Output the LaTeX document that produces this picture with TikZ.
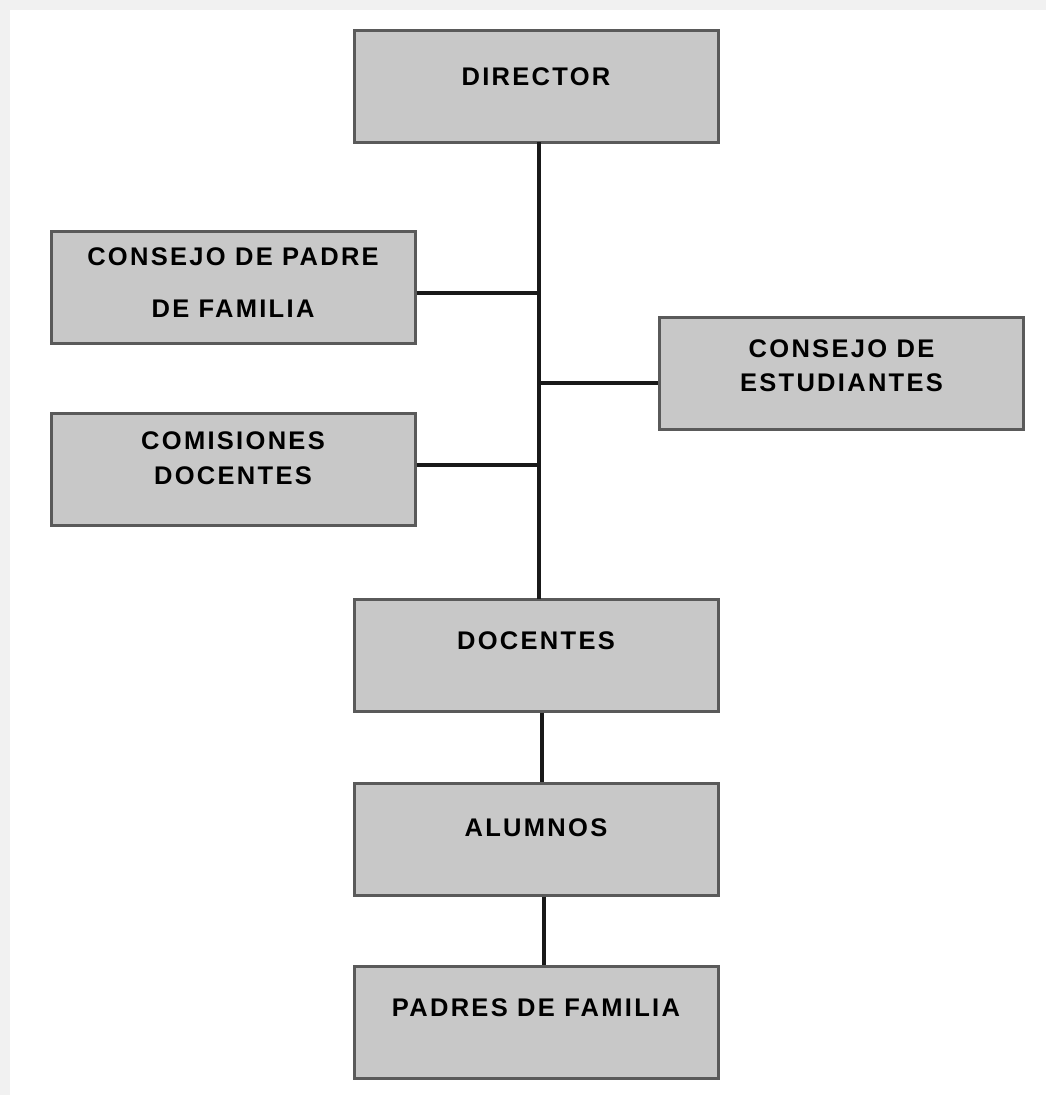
\documentclass[tikz,border=0pt]{standalone}
\usepackage{fontspec}
\setmainfont{Liberation Sans}[LetterSpace=9]
\usetikzlibrary{positioning}
\definecolor{boxfill}{HTML}{C8C8C8}
\definecolor{boxline}{HTML}{5A5A5A}
\definecolor{pagegray}{HTML}{F1F1F1}
\newcommand{\boxtxt}[2]{\parbox[c][112pt][t]{360pt}{\centering\vspace*{#1}#2}}

\begin{document}
\begin{tikzpicture}[x=1pt, y=-1pt, orgbox/.style={draw=boxline, line width=3pt, fill=boxfill, minimum width=364pt, minimum height=112pt, inner sep=0pt, font=\fontsize{25.5}{30}\selectfont\bfseries}, link/.style={line width=3.2pt, black!90}]
    \fill[pagegray] (0,0) rectangle (1046,1095);
    \fill[white] (10,10) rectangle (1046,1095);

    \node[orgbox] (director) at (536,86) {\boxtxt{38pt}{DIRECTOR}};
    \node[orgbox] (padrefam) at (233,287.5) {\boxtxt{16pt}{CONSEJO DE PADRE\\[22pt] DE FAMILIA}};
    \node[orgbox] (estud) at (841.5,373.5) {\boxtxt{22pt}{CONSEJO DE\\[4pt] ESTUDIANTES}};
    \node[orgbox] (comis) at (233,469) {\boxtxt{19pt}{COMISIONES\\[5pt] DOCENTES}};
    \node[orgbox] (docentes) at (536,655) {\boxtxt{33pt}{DOCENTES}};
    \node[orgbox] (alumnos) at (536,839) {\boxtxt{36pt}{ALUMNOS}};
    \node[orgbox] (padres) at (536,1022) {\boxtxt{33pt}{PADRES DE FAMILIA}};

    \coordinate (top) at (539,142);
    \coordinate (bottom) at (539,599);

    \draw[link] (top) -- (bottom);
    \draw[link] ([yshift=-5.5pt]padrefam.east) -- ([yshift=-5.5pt]padrefam.east -| top);
    \draw[link] ([yshift=-9.5pt]estud.west) -- ([yshift=-9.5pt]estud.west -| top);
    \draw[link] ([yshift=4pt]comis.east) -- ([yshift=4pt]comis.east -| top);
    \draw[link] ([xshift=6pt]docentes.south) -- ([xshift=6pt]alumnos.north);
    \draw[link] ([xshift=8pt]alumnos.south) -- ([xshift=8pt]padres.north);
\end{tikzpicture}
\end{document}
